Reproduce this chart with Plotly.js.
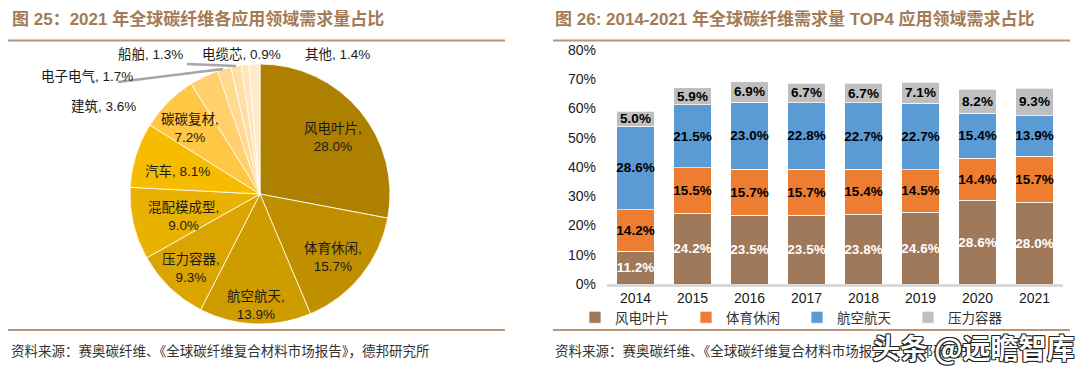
<!DOCTYPE html>
<html>
<head>
<meta charset="utf-8">
<script src="https://cdn.plot.ly/plotly-3.0.1.min.js"></script>
<style>
html,body{margin:0;padding:0;background:#fff;}
#chart{width:1080px;height:373px;}
</style>
</head>
<body>
<div id="chart"></div>
<script>
// ---------- Data: pie (2021 application share) ----------
const pieLabels = ['风电叶片','体育休闲','航空航天','压力容器','混配模成型','汽车','碳碳复材','建筑','电子电气','船舶','电缆芯','其他'];
const pieValues = [28.0, 15.7, 13.9, 9.3, 9.0, 8.1, 7.2, 3.6, 1.7, 1.3, 0.9, 1.4];

// ---------- Data: stacked bars (2014-2021 TOP4 share) ----------
const years = ['2014','2015','2016','2017','2018','2019','2020','2021'];
const windBlade = [11.2, 24.2, 23.5, 23.5, 23.8, 24.6, 28.6, 28.0];
const sports    = [14.2, 15.5, 15.7, 15.7, 15.4, 14.5, 14.4, 15.7];
const aero      = [28.6, 21.5, 23.0, 22.8, 22.7, 22.7, 15.4, 13.9];
const pressure  = [5.0, 5.9, 6.9, 6.7, 6.7, 7.1, 8.2, 9.3];
const barNames  = ['风电叶片','体育休闲','航空航天','压力容器'];

// ---------- Text ----------
const titleLeft  = '图 25：2021 年全球碳纤维各应用领域需求量占比';
const titleRight = '图 26: 2014-2021 年全球碳纤维需求量 TOP4 应用领域需求占比';
const sourceText = '资料来源：赛奥碳纤维、《全球碳纤维复合材料市场报告》，德邦研究所';
const watermark  = '头条 @远瞻智库';

// ---------- Styles ----------
const W = 1080, H = 373;
const px = x => x / W;
const py = y => 1 - y / H;
const pieColors = ['#AD8000','#BF8F00','#CF9C00','#DAA500','#EAB200','#F6BD00','#FFC743','#FFD06C','#FFD98D','#FFDFA3','#FFE5B8','#FFEBCC'];
const barColors = ['#A0785A','#ED7D31','#5B9BD5','#BFBFBF'];
const barTextColors = ['#ffffff','#000000','#000000','#000000'];
const brown = '#A47B55';
const lineBrown = '#B8967A';
const latin = 'Liberation Sans, Arial, Noto Sans CJK SC, sans-serif';
const cjk = 'Noto Sans CJK SC, Liberation Sans, sans-serif';

// label placement for pie (pixel centres)
const pieLabelLayout = [
  {x:333, y:137, mode:'two'},
  {x:333, y:257, mode:'two'},
  {x:256, y:305, mode:'two'},
  {x:191, y:268, mode:'two'},
  {x:183, y:216, mode:'two'},
  {x:177, y:171, mode:'one'},
  {x:190, y:128, mode:'two'},
  {x:103, y:107, mode:'one'},
  {x:87,  y:76,  mode:'one'},
  {x:150, y:55,  mode:'one'},
  {x:241, y:55,  mode:'one'},
  {x:337, y:55,  mode:'one'}
];

const pieTrace = {
  type:'pie',
  labels: pieLabels,
  values: pieValues,
  sort:false,
  direction:'clockwise',
  rotation:0,
  textinfo:'none',
  hoverinfo:'label+value',
  marker:{colors:pieColors, line:{color:'#ffffff', width:0.8}},
  domain:{x:[px(130), px(390)], y:[py(324), py(64)]},
  showlegend:false
};

const seriesData = [windBlade, sports, aero, pressure];
const barTraces = seriesData.map((vals, i) => ({
  type:'bar',
  name: barNames[i],
  x: years,
  y: vals,
  xaxis:'x', yaxis:'y',
  marker:{color:barColors[i], line:{color:'rgba(255,255,255,0.7)', width:1}},
  texttemplate:'%{y:.1f}%',
  textposition:'inside',
  insidetextanchor:'middle',
  textangle:0,
  textfont:{family:latin, size:13.5, color:barTextColors[i], weight:'bold'},
  hoverinfo:'x+y+name'
}));

const annotations = [];
pieLabels.forEach((lab, i) => {
  const L = pieLabelLayout[i];
  const txt = L.mode === 'two'
    ? lab + ',<br>' + pieValues[i].toFixed(1) + '%'
    : lab + ', ' + pieValues[i].toFixed(1) + '%';
  annotations.push({
    xref:'paper', yref:'paper', x:px(L.x), y:py(L.y),
    xanchor:'center', yanchor:'middle', showarrow:false,
    text: txt,
    font:{family:latin, size:13.5, color:'#1a1a1a'}
  });
});
annotations.push(
  {xref:'paper', yref:'paper', x:px(10), y:py(19), xanchor:'left', yanchor:'middle', showarrow:false,
   text:'<b>'+titleLeft+'</b>', font:{family:latin, size:17, color:brown}},
  {xref:'paper', yref:'paper', x:px(553), y:py(19), xanchor:'left', yanchor:'middle', showarrow:false,
   text:'<b>'+titleRight+'</b>', font:{family:latin, size:17, color:brown}},
  {xref:'paper', yref:'paper', x:px(9), y:py(350), xanchor:'left', yanchor:'middle', showarrow:false,
   text:sourceText, font:{family:cjk, size:13.5, color:'#333333'}},
  {xref:'paper', yref:'paper', x:px(553), y:py(350), xanchor:'left', yanchor:'middle', showarrow:false,
   text:sourceText, font:{family:cjk, size:13.5, color:'#333333'}},
  {xref:'paper', yref:'paper', x:px(1077), y:py(347), xanchor:'right', yanchor:'middle', showarrow:false,
   text:watermark, font:{family:cjk, size:28, color:'#ffffff', weight:'bold',
   shadow:'1px 1px 0 #222, -1px -1px 0 #222, 1px -1px 0 #222, -1px 1px 0 #222'}}
);

const shapes = [
  {type:'line', xref:'paper', yref:'paper', x0:px(8), x1:px(505), y0:py(40.5), y1:py(40.5), line:{color:lineBrown, width:2}},
  {type:'line', xref:'paper', yref:'paper', x0:px(553), x1:px(1070), y0:py(40.5), y1:py(40.5), line:{color:lineBrown, width:2}},
  {type:'line', xref:'paper', yref:'paper', x0:px(8), x1:px(505), y0:py(330), y1:py(330), line:{color:lineBrown, width:2}},
  {type:'line', xref:'paper', yref:'paper', x0:px(553), x1:px(1070), y0:py(330), y1:py(330), line:{color:lineBrown, width:2}},
  // leader lines for small pie slices
  {type:'line', xref:'paper', yref:'paper', x0:px(118), x1:px(223), y0:py(82), y1:py(69), line:{color:'#A6A6A6', width:2.5}},
  {type:'line', xref:'paper', yref:'paper', x0:px(187), x1:px(236), y0:py(64), y1:py(66), line:{color:'#A6A6A6', width:2.5}}
];

const layout = {
  width:W, height:H,
  margin:{l:0, r:0, t:0, b:0, autoexpand:false},
  paper_bgcolor:'#ffffff',
  plot_bgcolor:'#ffffff',
  barmode:'stack',
  bargap:0.35,
  uniformtext:{minsize:13.5, mode:'show'},
  xaxis:{domain:[px(607), px(1063)], anchor:'y', type:'category',
    showline:true, linecolor:'#D9D9D9', linewidth:2.5, ticks:'', showgrid:false,
    tickfont:{family:latin, size:14, color:'#1a1a1a'}},
  yaxis:{domain:[py(284), py(50)], anchor:'x', range:[0,80], dtick:10, ticksuffix:'%',
    showgrid:false, zeroline:false, showline:false, ticks:'', ticklabelstandoff:10,
    tickfont:{family:latin, size:14, color:'#1a1a1a'}},
  legend:{orientation:'h', x:px(575), xanchor:'left', y:py(302), yanchor:'top',
    traceorder:'normal', font:{family:cjk, size:13.5, color:'#333333'},
    itemwidth:30, entrywidth:66, bgcolor:'rgba(0,0,0,0)'},
  annotations:annotations,
  shapes:shapes
};

Plotly.newPlot('chart', [pieTrace].concat(barTraces), layout, {staticPlot:true, displayModeBar:false});
</script>
</body>
</html>
